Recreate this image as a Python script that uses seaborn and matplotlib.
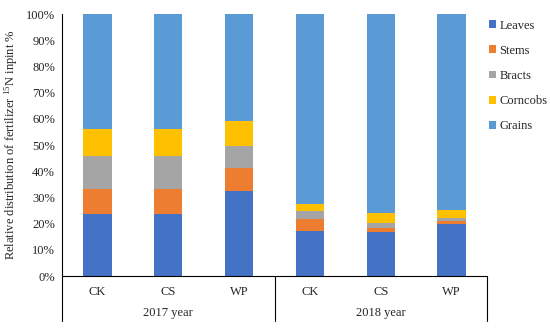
import numpy as np
import pandas as pd
import matplotlib
matplotlib.use("Agg")
import matplotlib.pyplot as plt
from matplotlib.patches import Patch
import seaborn as sns

sns.set_theme(style="white")
plt.rcParams["font.family"] = ["Liberation Serif", "DejaVu Serif"]
plt.rcParams["mathtext.fontset"] = "custom"
plt.rcParams["mathtext.rm"] = "Liberation Serif"

# Data (percent of each organ, bottom to top)
years = ["2017 year", "2018 year"]
treatments = ["CK", "CS", "WP"]
parts = ["Leaves", "Stems", "Bracts", "Corncobs", "Grains"]
leaves = [23.5, 23.5, 32.6, 17.3, 16.7, 20.0]
stems = [9.6, 9.6, 8.5, 4.6, 1.7, 1.0]
bracts = [12.8, 12.8, 8.6, 3.0, 1.8, 1.0]
corncobs = [10.2, 10.2, 9.5, 2.6, 3.7, 3.2]
grains = [43.9, 43.9, 40.8, 72.5, 76.1, 74.8]
colors = ["#4472C4", "#ED7D31", "#A5A5A5", "#FFC000", "#5B9BD5"]

keys = [f"{y[:4]} {t}" for y in years for t in treatments]
df = pd.DataFrame({"key": keys, "Leaves": leaves, "Stems": stems,
                   "Bracts": bracts, "Corncobs": corncobs, "Grains": grains})
cum = df[parts].cumsum(axis=1)

fig = plt.figure(figsize=(5.5, 3.28), dpi=100)
ax = fig.add_axes([0.1127, 0.1585, 0.7728, 0.7988])

# draw cumulative totals from top to bottom so each layer overlays the next
for part, col in reversed(list(zip(parts, colors))):
    sns.barplot(x=df["key"], y=cum[part], order=keys, color=col,
                width=0.4, saturation=1, ax=ax, linewidth=0)

ax.set_xlim(-0.5, 5.5)
ax.set_ylim(0, 100)
ax.set_yticks(np.arange(0, 101, 10))
ax.set_yticklabels([f"{v}%" for v in range(0, 101, 10)], fontsize=9)
ax.set_xticks([])
ax.set_xlabel("")
ax.set_ylabel("Relative distribution of fertilizer $\\mathregular{^{15}}$N inpint %",
              fontsize=9, labelpad=4)
ax.tick_params(axis="y", direction="out", length=3, width=0.8, color="black", pad=2)

for s in ["top", "right"]:
    ax.spines[s].set_visible(False)
ax.spines["left"].set_color("black")
ax.spines["bottom"].set_color("black")
ax.spines["left"].set_linewidth(0.8)
ax.spines["bottom"].set_linewidth(0.8)

# multi-level category axis
trans = ax.get_xaxis_transform()
for xb in [-0.5, 2.5, 5.5]:
    ax.plot([xb, xb], [0, -0.172], color="black", lw=0.8,
            transform=trans, clip_on=False)
for i, t in enumerate(treatments * 2):
    ax.text(i, -0.062, t, transform=trans, ha="center", va="center", fontsize=9)
for j, y in enumerate(years):
    ax.text(1 + 3 * j, -0.142, y, transform=trans, ha="center", va="center", fontsize=9)

handles = [Patch(facecolor=c, edgecolor="none", label=p) for p, c in zip(parts, colors)]
ax.legend(handles=handles, loc="upper left", bbox_to_anchor=(0.998, 0.988),
          frameon=False, fontsize=9, handlelength=0.6, handleheight=0.6,
          handletextpad=0.25, labelspacing=1.05, borderaxespad=0, borderpad=0.2)

fig.savefig("out.png", dpi=100)
